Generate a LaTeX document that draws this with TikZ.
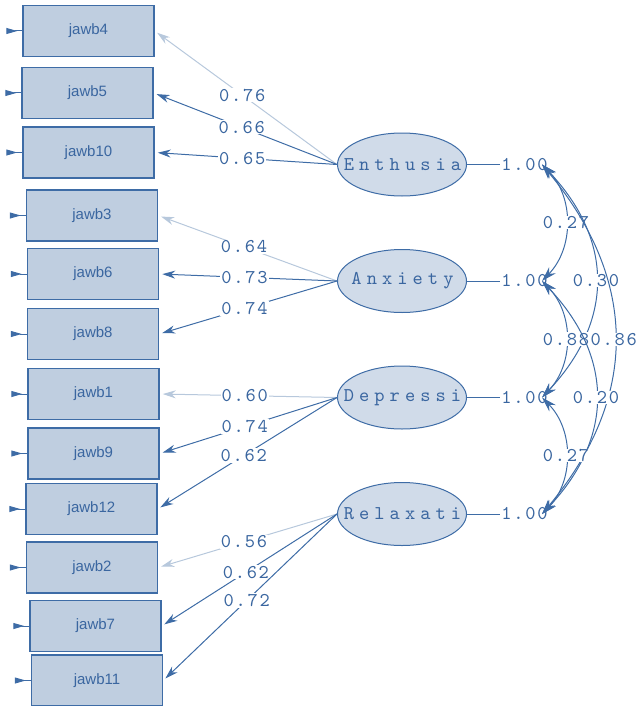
\documentclass[tikz,border=0pt]{standalone}
\usepackage{fontspec}
\usetikzlibrary{arrows.meta,calc,shapes.geometric}
\newfontfamily\boxfont{Liberation Sans}
\newfontfamily\numfont{lmmono10-regular.otf}[LetterSpace=9]
\newfontfamily\ellfont{lmmono10-regular.otf}[LetterSpace=26]
\definecolor{dk}{HTML}{3E6CA6}
\definecolor{lt}{HTML}{B7C8DC}
\definecolor{bfill}{HTML}{BFCEE0}
\definecolor{efill}{HTML}{D0DBE9}
\definecolor{txt}{HTML}{3A66A0}
\newcommand\numfnt{\fontsize{19.5}{21}\numfont}
\newcommand\ellfnt{\fontsize{19.5}{21}\ellfont}
\tikzset{
  obs/.style={draw=dk, line width=1.5pt, fill=bfill, minimum width=131pt, minimum height=51pt,
    inner sep=0pt, font=\fontsize{15}{17}\boxfont, text=txt},
  lat/.style={ellipse, draw=dk, line width=1pt, fill=efill, minimum width=129pt, minimum height=63pt,
    inner sep=0pt, font=\ellfnt, text=txt},
  load/.style={draw=dk, line width=1pt, -{Stealth[length=13pt,width=8pt]}, shorten >=3pt},
  loadlt/.style={draw=lt, line width=1pt, -{Stealth[length=13pt,width=8pt]}, shorten >=3pt},
  lab/.style={fill=white, inner sep=1pt, font=\numfnt, text=txt, pos=0.52},
  err/.style={draw=dk, line width=1pt, {Triangle[reversed,length=11pt,width=6pt]}-},
  cov/.style={draw=dk, line width=1pt, {Stealth[length=15pt,width=9pt]}-{Stealth[length=15pt,width=9pt]}},
  covlab/.style={fill=white, inner sep=0.5pt, font=\numfnt, text=txt, pos=0.5},
  unit/.style={inner sep=1pt, font=\numfnt, text=txt}
}
\begin{document}
\begin{tikzpicture}[x=1pt,y=-1pt]
\useasboundingbox (0,0) rectangle (638,706);
% observed boxes
\node[obs] (b4)  at (88.5,31)   {jawb4};
\node[obs] (b5)  at (87.5,93)   {jawb5};
\node[obs] (b10) at (88.5,152.5){jawb10};
\node[obs] (b3)  at (92,215.5)  {jawb3};
\node[obs] (b6)  at (93,274)    {jawb6};
\node[obs] (b8)  at (93,334)    {jawb8};
\node[obs] (b1)  at (93.5,394)  {jawb1};
\node[obs] (b9)  at (93.5,453.5){jawb9};
\node[obs] (b12) at (91.5,509)  {jawb12};
\node[obs] (b2)  at (92,567.5)  {jawb2};
\node[obs] (b7)  at (95.5,626)  {jawb7};
\node[obs] (b11) at (97,680.5)  {jawb11};
% error stubs
\foreach \b in {b4,b5,b10,b3,b6,b8,b1,b9,b12,b2,b7,b11}{
  \coordinate (e\b) at ($(\b.west)+(-16,0)$);
  \draw[err] (e\b) -- (\b.west);
}
% latent
\node[lat] (E) at (402,164.5) {\makebox[0pt]{\hspace{1pt}Enthusia}};
\node[lat] (A) at (402,281)   {\makebox[0pt]{\hspace{1pt}Anxiety}};
\node[lat] (D) at (402,397.5) {\makebox[0pt]{\hspace{1pt}Depressi}};
\node[lat] (R) at (402,514)   {\makebox[0pt]{\hspace{1pt}Relaxati}};
% loadings
\draw[loadlt] (E.west) -- node[lab]{0.76} (b4.east);
\draw[load]   (E.west) -- node[lab]{0.66} (b5.east);
\draw[load]   (E.west) -- node[lab]{0.65} (b10.east);
\draw[loadlt] (A.west) -- node[lab]{0.64} (b3.east);
\draw[load]   (A.west) -- node[lab]{0.73} (b6.east);
\draw[load]   (A.west) -- node[lab]{0.74} (b8.east);
\draw[loadlt] (D.west) -- node[lab]{0.60} (b1.east);
\draw[load]   (D.west) -- node[lab]{0.74} (b9.east);
\draw[load]   (D.west) -- node[lab]{0.62} (b12.east);
\draw[loadlt] (R.west) -- node[lab]{0.56} (b2.east);
\draw[load]   (R.west) -- node[lab]{0.62} (b7.east);
\draw[load]   (R.west) -- node[lab]{0.72} (b11.east);
% variances
\node[unit] (u1) at (524.5,164.5) {1.00};
\node[unit] (u2) at (524.5,281)   {1.00};
\node[unit] (u3) at (524.5,397.5) {1.00};
\node[unit] (u4) at (524.5,514)   {1.00};
\draw[dk, line width=1pt] (E.east) -- (u1.west);
\draw[dk, line width=1pt] (A.east) -- (u2.west);
\draw[dk, line width=1pt] (D.east) -- (u3.west);
\draw[dk, line width=1pt] (R.east) -- (u4.west);
\coordinate (c1) at (542,164.5);
\coordinate (c2) at (542,281);
\coordinate (c3) at (542,397.5);
\coordinate (c4) at (542,514);
% covariances
\draw[cov] (c1) .. controls (574,197) and (574,248) .. node[covlab]{0.27} (c2);
\draw[cov] (c1) .. controls (614,240) and (614,321) .. node[covlab]{0.30} (c3);
\draw[cov] (c1) .. controls (639,281) and (639,398) .. node[covlab, xshift=-1pt]{0.86} (c4);
\draw[cov] (c2) .. controls (574,314) and (574,364) .. node[covlab]{0.88} (c3);
\draw[cov] (c2) .. controls (614,357) and (614,438) .. node[covlab]{0.20} (c4);
\draw[cov] (c3) .. controls (574,430) and (574,481) .. node[covlab]{0.27} (c4);
\end{tikzpicture}
\end{document}
